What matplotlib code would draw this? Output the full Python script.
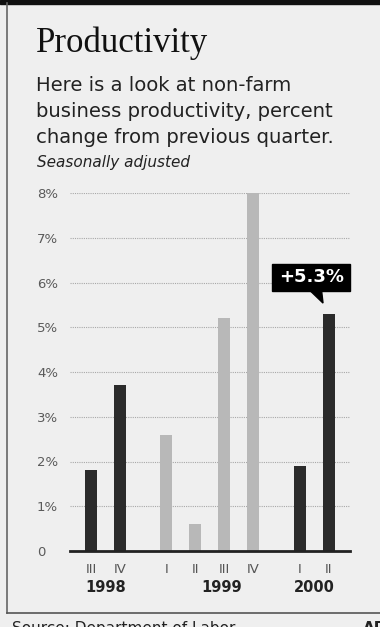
import matplotlib.pyplot as plt
from matplotlib.patches import Rectangle, Polygon
from matplotlib.lines import Line2D

quarters = ["III", "IV", "I", "II", "III", "IV", "I", "II"]
years = ["1998", "1998", "1999", "1999", "1999", "1999", "2000", "2000"]
values = [1.8, 3.7, 2.6, 0.6, 5.2, 8.0, 1.9, 5.3]
highlight = [True, True, False, False, False, False, True, True]
yticks = [0, 1, 2, 3, 4, 5, 6, 7, 8]
ytick_labels = ["0", "1%", "2%", "3%", "4%", "5%", "6%", "7%", "8%"]
# the 1999 label sits a little right of its group's centre
year_shift = {"1998": 0.0, "1999": 0.4, "2000": 0.0}

W, H = 380, 627
bg = "#efefef"
dark = "#2b2b2b"
light = "#b8b8b8"

fig = plt.figure(figsize=(W / 100, H / 100), dpi=100, facecolor=bg)


def fx(px):
    return px / W


def fy(py):
    return 1 - py / H


# bars in one year are 1 unit apart, a wider gap between years
xpos = []
x = 0.0
for i, yr in enumerate(years):
    if i > 0:
        x += 1.0 if yr == years[i - 1] else 1.6
    xpos.append(x)

ax = fig.add_axes([fx(70), fy(551), fx(280), fy(193) - fy(551)])
ax.set_facecolor(bg)
ax.set_xlim(-0.724, 8.93)
ax.set_ylim(0, 8)

for yv in yticks[1:]:
    ax.axhline(yv, color="#a8a8a8", lw=0.8, ls=(0, (1, 1)), zorder=1)

colors = [dark if h else light for h in highlight]
ax.bar(xpos, values, width=0.41, color=colors, zorder=2, clip_on=False)
ax.axhline(0, color="#222222", lw=2, zorder=3, clip_on=False)

for s in ax.spines.values():
    s.set_visible(False)
ax.set_xticks([])
ax.set_yticks(yticks)
ax.set_yticklabels(ytick_labels, fontsize=9.5, color="#5a5a5a",
                   family="DejaVu Sans")
ax.tick_params(axis="y", length=0, pad=23.8)
for lbl in ax.get_yticklabels():
    lbl.set_horizontalalignment("left")

# quarter and year labels
for xp, q in zip(xpos, quarters):
    ax.text(xp, -0.42, q, ha="center", va="center", fontsize=9.5,
            color="#555555", family="DejaVu Sans")
for yr in dict.fromkeys(years):
    xs = [xp for xp, y in zip(xpos, years) if y == yr]
    ax.text(sum(xs) / len(xs) + year_shift[yr], -0.82, yr, ha="center",
            va="center", fontsize=10.5, fontweight="bold", color="#222222",
            family="DejaVu Sans")

# callout for the latest value
last_x, last_v = xpos[-1], values[-1]
ax.add_patch(Rectangle((last_x - 1.96, last_v + 0.51), 2.69, 0.6,
                       color="black", zorder=5, clip_on=False))
ax.add_patch(Polygon([(last_x - 0.65, last_v + 0.52), (last_x - 0.25, last_v + 0.52),
                      (last_x - 0.2, last_v + 0.24)],
                     color="black", zorder=5, clip_on=False))
ax.text(last_x - 0.61, last_v + 0.82, "+%.1f%%" % last_v, ha="center",
        va="center", color="white", fontsize=13, fontweight="bold",
        family="DejaVu Sans", zorder=6)

# frame
fig.add_artist(Rectangle((0, fy(4)), 1, fy(0) - fy(4), color="#111111",
                         transform=fig.transFigure))
fig.add_artist(Line2D([fx(7), fx(7)], [fy(613), fy(3)], color="#666666",
                      lw=1.2, transform=fig.transFigure))
fig.add_artist(Line2D([fx(7), 1], [fy(613), fy(613)], color="#555555",
                      lw=1.2, transform=fig.transFigure))

# titles
fig.text(fx(36), fy(52), "Productivity", fontsize=25, family="Liberation Serif",
         color="#111111", va="baseline")
sub = ["Here is a look at non-farm",
       "business productivity, percent",
       "change from previous quarter."]
for i, line in enumerate(sub):
    fig.text(fx(36), fy(91 + 26 * i), line, fontsize=14.1,
             family="DejaVu Sans", color="#222222", va="baseline")
fig.text(fx(37), fy(167), "Seasonally adjusted", fontsize=11,
         family="DejaVu Sans", style="italic", color="#222222",
         va="baseline")

# footer, cut off at the bottom edge as in the original clipping
fig.text(fx(12), fy(621), "Source: Department of Labor", fontsize=11,
         family="DejaVu Sans", color="#222222", va="top")
fig.text(fx(363), fy(621), "AP", fontsize=11, fontweight="bold",
         family="DejaVu Sans", color="#222222", va="top")

fig.savefig("out.png", dpi=100, facecolor=bg)
